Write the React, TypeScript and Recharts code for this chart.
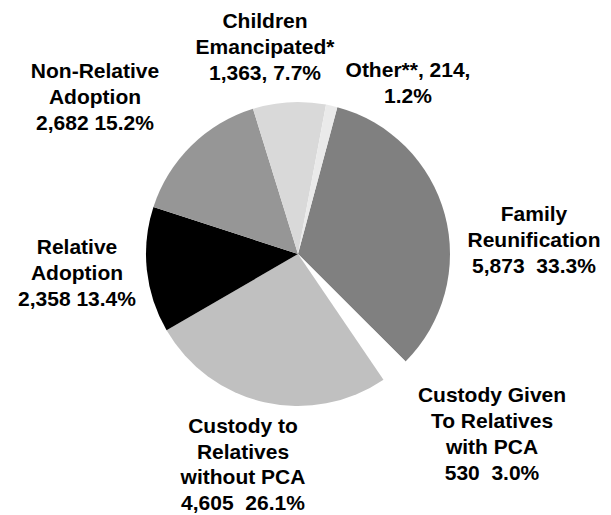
import { PieChart, Pie, Cell } from 'recharts'

const categories = [
  'Family Reunification',
  'Custody Given To Relatives with PCA',
  'Custody to Relatives without PCA',
  'Relative Adoption',
  'Non-Relative Adoption',
  'Children Emancipated*',
  'Other**',
]
const counts = [5873, 530, 4605, 2358, 2682, 1363, 214]
const labelLines = [
  ['Family', 'Reunification', '5,873  33.3%'],
  ['Custody Given', 'To Relatives', 'with PCA', '530  3.0%'],
  ['Custody to', 'Relatives', 'without PCA', '4,605  26.1%'],
  ['Relative', 'Adoption', '2,358 13.4%'],
  ['Non-Relative', 'Adoption', '2,682 15.2%'],
  ['Children', 'Emancipated*', '1,363, 7.7%'],
  ['Other**, 214,', '1.2%'],
]

const COLORS = ['#808080', '#ffffff', '#c0c0c0', '#000000', '#969696', '#d9d9d9', '#eaeaea']
// label anchor (center x, first baseline) relative to the pie centre
const LABEL_OFFSETS = [
  [236, -33],
  [194, 148],
  [-55, 179],
  [-221, 0],
  [-203, -176],
  [-33, -226],
  [110, -177],
]
const LINE_H = 26

const data = categories.map((name, i) => ({ name, value: counts[i] }))

function renderLabel(props: any) {
  const { cx, cy, index } = props
  const [dx, dy] = LABEL_OFFSETS[index]
  const lines = labelLines[index]
  return (
    <text
      x={cx + dx}
      y={cy + dy}
      textAnchor="middle"
      fill="#000"
      fontFamily="'Liberation Sans', Arial, sans-serif"
      fontWeight="bold"
      fontSize={21}
      style={{ whiteSpace: 'pre' }}
    >
      {lines.map((l, j) => (
        <tspan key={j} x={cx + dx} dy={j === 0 ? 0 : index === 2 ? 25.5 : LINE_H}>
          {l}
        </tspan>
      ))}
    </text>
  )
}

export default function App() {
  return (
    <div style={{ position: 'absolute', left: 0, top: 0, width: 611, height: 515, background: '#fff' }}>
      <PieChart width={611} height={515}>
        <Pie
          data={data}
          dataKey="value"
          nameKey="name"
          cx={293}
          cy={249}
          outerRadius={152}
          startAngle={75}
          endAngle={-285}
          stroke="none"
          label={renderLabel}
          labelLine={false}
          isAnimationActive={false}
        >
          {data.map((d, i) => (
            <Cell key={d.name} fill={COLORS[i]} />
          ))}
        </Pie>
      </PieChart>
    </div>
  )
}
